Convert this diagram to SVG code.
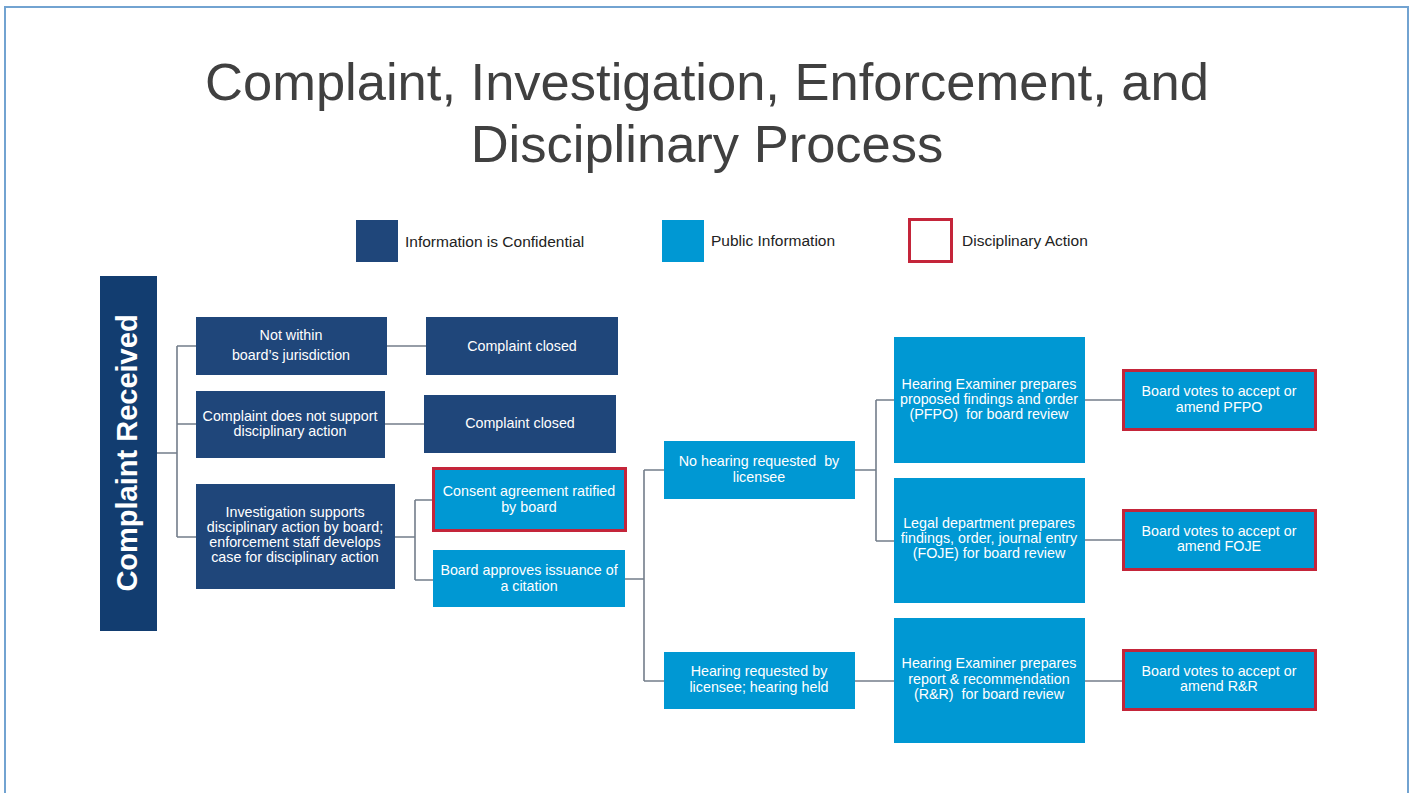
<svg xmlns="http://www.w3.org/2000/svg" width="1411" height="793" viewBox="0 0 1411 793">
<style>
.frame{fill:#ffffff;stroke:#72a3d1;stroke-width:2}
.title{font-family:"Liberation Sans",Arial,sans-serif;font-size:52.5px;fill:#404040;text-anchor:middle}
.leg{font-family:"Liberation Sans",Arial,sans-serif;font-size:15.5px;fill:#222222}
.dark{fill:#1f467a}
.light{fill:#0098d3}
.act{fill:#0098d3;stroke:#c4253a;stroke-width:3}
.t{font-family:"Liberation Sans",Arial,sans-serif;font-size:14.3px;fill:#ffffff;text-anchor:middle;white-space:pre}
.conn{fill:none;stroke:#737d8a;stroke-width:1.6}
</style>
<rect class="frame" x="5" y="7" width="1403" height="800"/>
<g id="title">
<text class="title" x="707" y="100">Complaint, Investigation, Enforcement, and</text>
<text class="title" x="707" y="162">Disciplinary Process</text>
</g>
<g id="legend">
<rect class="dark" x="356" y="220" width="42" height="42"/>
<text class="leg" x="405" y="247">Information is Confidential</text>
<rect class="light" x="662" y="220" width="42" height="42"/>
<text class="leg" x="711" y="246">Public Information</text>
<rect x="909.5" y="219.5" width="42" height="42" fill="#ffffff" stroke="#c4253a" stroke-width="3"/>
<text class="leg" x="962" y="246">Disciplinary Action</text>
</g>
<g id="connectors">
<path class="conn" d="M157 453 H177 M177 346 V537 M177 346 H196 M177 424 H196 M177 537 H196"/>
<path class="conn" d="M387 346 H426"/>
<path class="conn" d="M385 424 H424"/>
<path class="conn" d="M395 537 H415 M415 500 V580 M415 500 H432 M415 580 H433"/>
<path class="conn" d="M625 579 H644 M644 470 V681 M644 470 H664 M644 681 H664"/>
<path class="conn" d="M855 470 H876 M876 400 V541 M876 400 H894 M876 541 H894"/>
<path class="conn" d="M855 681 H894"/>
<path class="conn" d="M1085 400 H1122"/>
<path class="conn" d="M1085 540 H1122"/>
<path class="conn" d="M1085 681 H1122"/>
</g>
<g id="complaint-received">
<rect x="100" y="276" width="57" height="355" fill="#123d70"/>
<text transform="translate(137,453) rotate(-90)" font-family="'Liberation Sans',Arial,sans-serif" font-size="29" font-weight="bold" fill="#ffffff" text-anchor="middle">Complaint Received</text>
</g>
<g id="not-within">
<rect class="dark" x="196" y="317" width="191" height="58"/>
<text class="t" x="291" y="340">Not within</text>
<text class="t" x="291" y="360">board’s jurisdiction</text>
</g>
<g id="closed-1">
<rect class="dark" x="426" y="317" width="192" height="58"/>
<text class="t" x="522" y="351">Complaint closed</text>
</g>
<g id="not-support">
<rect class="dark" x="196" y="391" width="189" height="67"/>
<text class="t" x="290" y="421">Complaint does not support</text>
<text class="t" x="290" y="436">disciplinary action</text>
</g>
<g id="closed-2">
<rect class="dark" x="424" y="395" width="192" height="58"/>
<text class="t" x="520" y="428">Complaint closed</text>
</g>
<g id="investigation">
<rect class="dark" x="196" y="484" width="199" height="105"/>
<text class="t" x="295" y="517">Investigation supports</text>
<text class="t" x="295" y="532">disciplinary action by board;</text>
<text class="t" x="295" y="547">enforcement staff develops</text>
<text class="t" x="295" y="562">case for disciplinary action</text>
</g>
<g id="consent">
<rect class="act" x="433.5" y="468.5" width="192" height="62"/>
<text class="t" x="529" y="496">Consent agreement ratified</text>
<text class="t" x="529" y="512">by board</text>
</g>
<g id="citation">
<rect class="light" x="433" y="550" width="192" height="57"/>
<text class="t" x="529" y="575">Board approves issuance of</text>
<text class="t" x="529" y="591">a citation</text>
</g>
<g id="no-hearing">
<rect class="light" x="664" y="441" width="191" height="58"/>
<text class="t" x="759" y="466">No hearing requested  by</text>
<text class="t" x="759" y="482">licensee</text>
</g>
<g id="hearing-held">
<rect class="light" x="664" y="652" width="191" height="57"/>
<text class="t" x="759" y="676">Hearing requested by</text>
<text class="t" x="759" y="692">licensee; hearing held</text>
</g>
<g id="pfpo">
<rect class="light" x="894" y="337" width="191" height="126"/>
<text class="t" x="989" y="389">Hearing Examiner prepares</text>
<text class="t" x="989" y="404">proposed findings and order</text>
<text class="t" x="989" y="419">(PFPO)  for board review</text>
</g>
<g id="foje">
<rect class="light" x="894" y="478" width="191" height="125"/>
<text class="t" x="989" y="528">Legal department prepares</text>
<text class="t" x="989" y="543">findings, order, journal entry</text>
<text class="t" x="989" y="558">(FOJE) for board review</text>
</g>
<g id="rr">
<rect class="light" x="894" y="618" width="191" height="125"/>
<text class="t" x="989" y="668">Hearing Examiner prepares</text>
<text class="t" x="989" y="684">report &amp; recommendation</text>
<text class="t" x="989" y="699">(R&amp;R)  for board review</text>
</g>
<g id="vote-pfpo">
<rect class="act" x="1123.5" y="370.5" width="192" height="59"/>
<text class="t" x="1219" y="396">Board votes to accept or</text>
<text class="t" x="1219" y="412">amend PFPO</text>
</g>
<g id="vote-foje">
<rect class="act" x="1123.5" y="510.5" width="192" height="59"/>
<text class="t" x="1219" y="536">Board votes to accept or</text>
<text class="t" x="1219" y="551">amend FOJE</text>
</g>
<g id="vote-rr">
<rect class="act" x="1123.5" y="650.5" width="192" height="59"/>
<text class="t" x="1219" y="676">Board votes to accept or</text>
<text class="t" x="1219" y="691">amend R&amp;R</text>
</g>
</svg>
